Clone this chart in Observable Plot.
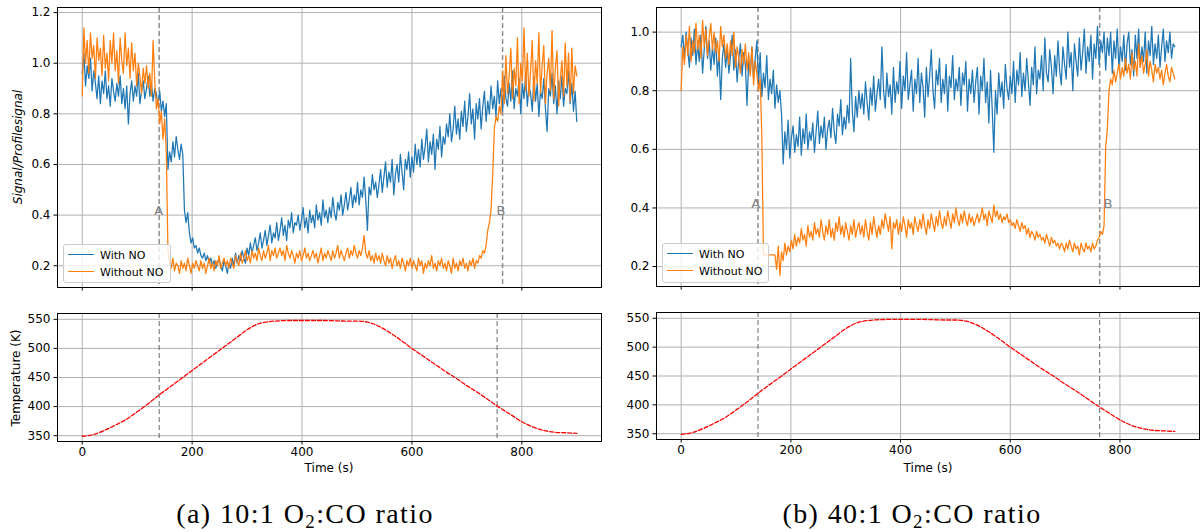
<!DOCTYPE html>
<html><head><meta charset="utf-8">
<script src="https://cdn.jsdelivr.net/npm/d3@7"></script>
<script src="https://cdn.jsdelivr.net/npm/@observablehq/plot@0.6"></script>
<style>
body{margin:0;background:#fff;}
#fig{position:relative;width:1200px;height:532px;overflow:hidden;font-family:"DejaVu Sans",sans-serif;color:#000;}
#fig svg{position:absolute;}
.ylab{position:absolute;font-size:12px;transform:translate(-50%,-50%) rotate(-90deg);white-space:nowrap;}
.xlab{position:absolute;font-size:12px;transform:translate(-50%,-50%);white-space:nowrap;}
.cap{position:absolute;font-family:"Liberation Serif",serif;font-size:28px;letter-spacing:1.4px;transform:translate(-50%,-50%);white-space:nowrap;}
.cap sub{font-size:19px;vertical-align:-5px;line-height:0;}
.legend{position:absolute;background:rgba(255,255,255,0.8);border:1px solid #cccccc;border-radius:3px;font-size:11px;box-sizing:border-box;}
.legend .sw{position:absolute;height:0;border-top:1.5px solid;}
.legend .tx{position:absolute;transform:translateY(-50%);white-space:nowrap;}
</style>
</head><body>
<div id="fig"></div>
<script>
// ---------- data ----------
const timeS = d3.range(0, 901, 3); // seconds, sampling of the signal traces
const xTicks = [0, 200, 400, 600, 800];
const signalTicksA = [0.2, 0.4, 0.6, 0.8, 1.0, 1.2];
const signalTicksB = [0.2, 0.4, 0.6, 0.8, 1.0];
const tempTicks = [350, 400, 450, 500, 550];
const seriesNames = ["With NO", "Without NO"];
const captionA = "(a) 10:1 O<sub>2</sub>:CO ratio";
const captionB = "(b) 40:1 O<sub>2</sub>:CO ratio";

// (a) 10:1 ratio, one row = 30 s
const leftWithNO = [
0.96,1.04,0.91,0.99,0.94,1.02,0.89,0.97,0.92,0.86,
0.95,0.84,0.93,0.88,0.97,0.86,0.91,0.83,0.94,0.89,
0.85,0.92,0.87,0.95,0.84,0.90,0.82,0.91,0.76,0.88,
0.93,0.85,0.91,0.87,0.96,0.84,0.89,0.93,0.86,0.90,
0.95,0.87,0.92,0.85,0.90,0.88,0.83,0.89,0.81,0.85,
0.79,0.84,0.58,0.65,0.61,0.69,0.63,0.71,0.66,0.62,
0.68,0.64,0.42,0.37,0.41,0.33,0.29,0.31,0.27,0.28,
0.25,0.27,0.24,0.23,0.25,0.22,0.24,0.21,0.23,0.20,
0.22,0.19,0.21,0.23,0.20,0.18,0.22,0.20,0.17,0.21,
0.19,0.23,0.20,0.25,0.21,0.24,0.22,0.26,0.23,0.21,
0.27,0.24,0.29,0.25,0.28,0.31,0.26,0.29,0.33,0.27,
0.30,0.34,0.28,0.32,0.36,0.29,0.33,0.31,0.37,0.30,
0.34,0.39,0.32,0.36,0.30,0.38,0.35,0.41,0.33,0.37,
0.36,0.40,0.34,0.38,0.43,0.35,0.39,0.33,0.42,0.37,
0.40,0.35,0.44,0.38,0.41,0.36,0.46,0.39,0.42,0.37,
0.43,0.39,0.47,0.41,0.38,0.45,0.42,0.48,0.40,0.44,
0.49,0.42,0.46,0.51,0.43,0.48,0.45,0.53,0.44,0.50,
0.47,0.55,0.46,0.34,0.51,0.48,0.56,0.50,0.53,0.47,
0.52,0.58,0.49,0.55,0.61,0.51,0.57,0.53,0.62,0.48,
0.56,0.60,0.53,0.64,0.57,0.50,0.62,0.58,0.65,0.55,
0.63,0.57,0.68,0.60,0.66,0.59,0.70,0.62,0.67,0.74,
0.61,0.69,0.64,0.72,0.58,0.70,0.66,0.75,0.63,0.71,
0.68,0.76,0.71,0.80,0.69,0.74,0.83,0.72,0.78,0.70,
0.81,0.75,0.85,0.73,0.79,0.88,0.76,0.82,0.70,0.84,
0.78,0.86,0.74,0.83,0.89,0.77,0.85,0.80,0.91,0.82,
0.87,0.79,0.93,0.84,0.90,0.81,0.95,0.86,0.83,0.92,
0.85,0.97,0.82,0.90,0.87,0.94,0.80,0.92,0.86,0.96,
0.83,0.91,0.88,0.81,0.95,0.85,0.92,0.79,0.89,0.86,
0.94,0.82,0.73,0.90,0.87,0.96,0.84,0.91,0.80,0.93,
0.86,0.95,0.83,0.90,0.88,0.97,0.84,0.92,0.81,0.89,
0.77];
const leftWithoutNO = [
0.87,1.14,1.00,1.09,0.96,1.12,1.02,1.07,0.94,1.10,
1.01,1.06,0.95,1.11,0.98,1.04,0.93,1.09,1.00,1.12,
0.97,1.05,0.92,1.10,1.01,0.96,1.12,0.99,1.06,0.94,
1.08,0.97,1.04,0.91,1.00,0.95,0.88,0.98,0.92,0.99,
0.90,0.96,0.87,1.09,0.93,0.82,0.86,0.76,0.81,0.70,
0.78,0.65,0.26,0.21,0.19,0.23,0.18,0.21,0.20,0.17,
0.22,0.19,0.21,0.18,0.23,0.20,0.17,0.21,0.19,0.22,
0.20,0.18,0.22,0.19,0.21,0.17,0.20,0.23,0.19,0.21,
0.18,0.22,0.20,0.24,0.19,0.21,0.23,0.20,0.22,0.19,
0.23,0.21,0.19,0.24,0.22,0.20,0.25,0.21,0.23,0.26,
0.22,0.24,0.21,0.26,0.23,0.25,0.22,0.27,0.24,0.22,
0.26,0.23,0.25,0.28,0.22,0.26,0.24,0.27,0.23,0.25,
0.27,0.24,0.26,0.22,0.28,0.25,0.23,0.26,0.24,0.21,
0.25,0.23,0.26,0.22,0.24,0.27,0.23,0.25,0.22,0.24,
0.26,0.23,0.25,0.21,0.24,0.27,0.22,0.25,0.23,0.26,
0.24,0.22,0.26,0.23,0.25,0.28,0.23,0.26,0.24,0.22,
0.25,0.27,0.23,0.26,0.24,0.28,0.25,0.23,0.26,0.24,
0.27,0.32,0.25,0.23,0.26,0.22,0.24,0.21,0.25,0.22,
0.24,0.21,0.25,0.22,0.20,0.24,0.21,0.23,0.19,0.22,
0.24,0.20,0.22,0.19,0.23,0.21,0.18,0.22,0.20,0.23,
0.19,0.22,0.20,0.18,0.23,0.20,0.22,0.17,0.21,0.19,
0.22,0.20,0.24,0.19,0.21,0.18,0.22,0.20,0.23,0.19,
0.21,0.18,0.22,0.20,0.17,0.23,0.19,0.21,0.18,0.22,
0.20,0.23,0.19,0.21,0.18,0.22,0.20,0.23,0.19,0.22,
0.21,0.24,0.23,0.26,0.25,0.28,0.34,0.37,0.42,0.56,
0.74,0.79,0.77,0.83,0.80,0.97,0.84,1.03,0.88,0.95,
1.06,0.86,0.98,0.91,1.10,0.84,1.00,0.93,1.14,0.89,
1.04,0.87,0.97,1.09,0.85,1.01,0.92,1.12,0.88,0.99,
1.07,0.84,0.96,1.02,0.89,1.13,0.86,0.98,1.05,0.83,
0.94,1.01,0.87,1.08,0.91,1.04,0.85,1.06,0.88,0.99,
0.95];

// (b) 40:1 ratio, one row = 30 s
const rightWithNO = [
0.95,0.99,0.91,1.00,0.94,0.88,0.98,0.92,1.01,0.89,
0.96,0.90,0.99,0.86,0.94,1.02,0.91,0.97,0.87,0.95,
0.89,0.98,0.85,0.93,0.77,0.91,0.96,0.88,0.94,0.86,
0.92,0.99,0.87,0.94,0.83,0.91,0.96,0.85,0.93,0.89,
0.75,0.90,0.86,0.95,0.84,0.91,0.97,0.82,0.93,0.78,
0.86,0.81,0.92,0.77,0.84,0.79,0.87,0.74,0.82,0.76,
0.80,0.72,0.55,0.66,0.60,0.70,0.57,0.64,0.68,0.59,
0.65,0.61,0.71,0.58,0.67,0.62,0.72,0.60,0.66,0.63,
0.69,0.59,0.66,0.73,0.62,0.68,0.64,0.71,0.60,0.67,
0.70,0.64,0.74,0.66,0.62,0.72,0.68,0.77,0.65,0.71,
0.67,0.75,0.69,0.91,0.73,0.66,0.78,0.71,0.80,0.74,
0.79,0.72,0.83,0.76,0.70,0.81,0.75,0.85,0.73,0.79,
0.84,0.77,0.95,0.80,0.74,0.86,0.78,0.82,0.72,0.88,
0.76,0.83,0.79,0.90,0.74,0.85,0.80,0.93,0.77,0.82,
0.87,0.73,0.84,0.79,0.91,0.76,0.86,0.81,0.71,0.88,
0.78,0.85,0.94,0.80,0.74,0.87,0.82,0.91,0.76,0.84,
0.79,0.89,0.73,0.85,0.81,0.92,0.77,0.84,0.80,0.88,
0.75,0.86,0.82,0.90,0.73,0.84,0.79,0.87,0.76,0.83,
0.88,0.72,0.85,0.80,0.91,0.76,0.83,0.69,0.87,0.74,
0.59,0.80,0.72,0.86,0.78,0.83,0.74,0.89,0.81,0.77,
0.85,0.79,0.90,0.76,0.87,0.82,0.93,0.78,0.86,0.80,
0.91,0.83,0.75,0.88,0.82,0.95,0.79,0.87,0.84,0.92,
0.80,0.98,0.86,0.83,0.94,0.88,0.79,0.92,0.85,0.97,
0.87,0.82,0.95,0.89,0.84,1.00,0.88,0.93,0.80,0.96,
0.90,0.85,0.98,0.87,0.93,1.01,0.86,0.95,0.90,0.99,
0.84,0.96,0.91,1.02,0.89,0.97,0.93,1.00,0.87,0.98,
0.92,1.00,0.86,0.97,0.91,1.01,0.88,0.95,0.90,0.99,
0.87,0.96,1.00,0.89,0.94,0.85,0.99,0.91,1.01,0.88,
0.95,0.90,1.00,0.86,0.97,0.92,1.02,0.89,0.96,0.91,
0.99,0.88,0.95,1.01,0.90,0.97,0.93,1.00,0.91,0.96,
0.95];
const rightWithoutNO = [
0.80,0.95,0.89,0.99,0.92,1.02,0.90,0.97,0.93,1.03,
0.94,0.99,0.91,1.04,0.95,1.01,0.92,0.98,1.03,0.94,
1.00,0.93,0.97,0.90,1.02,0.95,0.99,0.91,0.96,0.89,
0.97,0.92,1.00,0.88,0.95,0.91,0.86,0.94,0.89,0.96,
0.87,0.93,0.85,0.95,0.82,0.90,0.86,0.80,0.84,0.65,
0.24,0.24,0.24,0.24,0.24,0.24,0.24,0.24,0.19,0.27,
0.17,0.25,0.22,0.28,0.24,0.27,0.25,0.29,0.26,0.31,
0.27,0.30,0.28,0.33,0.29,0.31,0.27,0.34,0.30,0.32,
0.29,0.35,0.31,0.33,0.30,0.36,0.32,0.29,0.34,0.31,
0.36,0.30,0.33,0.29,0.35,0.32,0.37,0.31,0.34,0.30,
0.35,0.32,0.29,0.34,0.31,0.36,0.30,0.33,0.35,0.31,
0.34,0.30,0.36,0.32,0.29,0.35,0.31,0.37,0.33,0.30,
0.34,0.31,0.36,0.33,0.38,0.35,0.32,0.37,0.26,0.35,
0.33,0.36,0.31,0.35,0.32,0.37,0.34,0.30,0.36,0.33,
0.35,0.31,0.37,0.34,0.32,0.36,0.33,0.38,0.34,0.31,
0.36,0.33,0.38,0.35,0.32,0.37,0.34,0.39,0.35,0.33,
0.37,0.34,0.39,0.36,0.33,0.38,0.35,0.40,0.36,0.34,
0.38,0.35,0.39,0.36,0.34,0.38,0.35,0.37,0.34,0.36,
0.38,0.35,0.37,0.40,0.36,0.38,0.34,0.39,0.37,0.35,
0.41,0.37,0.39,0.36,0.38,0.35,0.37,0.36,0.38,0.35,
0.36,0.34,0.35,0.33,0.36,0.34,0.32,0.35,0.33,0.34,
0.31,0.33,0.30,0.32,0.31,0.29,0.32,0.30,0.31,0.29,
0.30,0.28,0.31,0.29,0.27,0.30,0.28,0.29,0.27,0.28,
0.26,0.28,0.27,0.25,0.28,0.26,0.29,0.27,0.25,0.28,
0.26,0.27,0.24,0.28,0.26,0.25,0.28,0.26,0.27,0.25,
0.28,0.26,0.27,0.29,0.30,0.32,0.31,0.34,0.61,0.67,
0.80,0.84,0.82,0.87,0.83,0.86,0.89,0.84,0.88,0.85,
0.91,0.86,0.89,0.84,0.93,0.87,0.90,0.85,0.96,0.88,
0.92,0.86,0.89,0.94,0.85,0.90,0.87,0.83,0.89,0.86,
0.88,0.84,0.87,0.82,0.86,0.89,0.85,0.83,0.88,0.86,
0.84];

// temperature ramp (K), every 20 s
const tempTime = d3.range(0, 901, 20);
const temperature = [349,352,359,368,378,391,405,420,434,448,462,476,490,504,518,532,542,546,547.5,548,548,548,548,547.5,547,547,545,538,527,514,500,487,474,461,449,436,424,411,398,386,374,365,359,356,355,354];

// event markers A/B (s)
const eventsTopA = [140, 765];
const eventsBottomA = [140, 755];
const eventsTopB = [140, 763];
const eventsBottomB = [140, 763];
const eventLabelsA = [{t:139, v:0.417, text:"A", anchor:"end"}, {t:762, v:0.417, text:"B", anchor:"start"}];
const eventLabelsB = [{t:136, v:0.415, text:"A", anchor:"end"}, {t:778, v:0.415, text:"B", anchor:"start"}];

const colors = ["#1f77b4", "#ff7f0e"];

// ---------- drawing ----------
const fig = document.getElementById("fig");
const gridStyle = {stroke:"#b0b0b0", strokeOpacity:1, strokeWidth:1};
const baseStyle = {fontFamily:"DejaVu Sans", fontSize:"12px", color:"#000", background:"transparent", overflow:"visible"};

function topPanel(o){
  const blueRows = timeS.map((t,i)=>({t, v:o.blue[i]}));
  const orangeRows = timeS.map((t,i)=>({t, v:o.orange[i]}));
  const svg = Plot.plot({
    width:o.width, height:300, marginLeft:o.ml, marginRight:o.mr, marginTop:7, marginBottom:o.mb,
    x:{domain:[-45,945]}, y:{domain:o.yDomain},
    style:baseStyle,
    marks:[
      Plot.gridX(xTicks, gridStyle),
      Plot.gridY(o.yTicks, gridStyle),
      Plot.ruleX(o.events, {stroke:"#8c8c8c", strokeWidth:1.5, strokeDasharray:"5,3"}),
      Plot.line(blueRows, {x:"t", y:"v", stroke:colors[0], strokeWidth:1.25}),
      Plot.line(orangeRows, {x:"t", y:"v", stroke:colors[1], strokeWidth:1.25}),
      Plot.text(o.labels, {x:"t", y:"v", text:"text", textAnchor:"anchor", fill:"#808080", fontSize:13}),
      Plot.axisX({ticks:xTicks, tickSize:3.5, tickFormat:()=>"", label:null}),
      Plot.axisY({ticks:o.yTicks, tickSize:3.5, tickPadding:3.5, tickFormat:d3.format(".1f"), label:null}),
      Plot.frame({stroke:"#000", strokeWidth:1})
    ]
  });
  svg.style.left = o.left + "px"; svg.style.top = "0px";
  fig.appendChild(svg);
}

function bottomPanel(o){
  const rows = tempTime.map((t,i)=>({t, v:temperature[i]}));
  const svg = Plot.plot({
    width:o.width, height:175, marginLeft:o.ml, marginRight:o.mr, marginTop:o.mt, marginBottom:o.mb,
    x:{domain:[-45,945]}, y:{domain:[340,560]},
    style:baseStyle,
    marks:[
      Plot.gridX(xTicks, gridStyle),
      Plot.gridY(tempTicks, gridStyle),
      Plot.ruleX(o.events, {stroke:"#666", strokeWidth:1, strokeDasharray:"5,3"}),
      Plot.line(rows, {x:"t", y:"v", stroke:"#ff0000", strokeWidth:1.3, strokeDasharray:"4,2", curve:"monotone-x"}),
      Plot.axisX({ticks:xTicks, tickSize:3.5, tickPadding:2, label:null}),
      Plot.axisY({ticks:tempTicks, tickSize:3.5, tickPadding:3.5, label:null}),
      Plot.frame({stroke:"#000", strokeWidth:1})
    ]
  });
  svg.style.left = o.left + "px"; svg.style.top = "300px";
  fig.appendChild(svg);
}

topPanel({left:0, width:605, ml:57, mr:4, mb:13, blue:leftWithNO, orange:leftWithoutNO,
  yDomain:[0.114,1.22], yTicks:signalTicksA, events:eventsTopA, labels:eventLabelsA});
topPanel({left:600, width:600, ml:56, mr:1, mb:14, blue:rightWithNO, orange:rightWithoutNO,
  yDomain:[0.132,1.084], yTicks:signalTicksB, events:eventsTopB, labels:eventLabelsB});
bottomPanel({left:0, width:605, ml:57, mr:4, mt:13, mb:34, events:eventsBottomA});
bottomPanel({left:600, width:600, ml:56, mr:1, mt:12, mb:36, events:eventsBottomB});

function addDiv(cls, html, x, y, extra){
  const d = document.createElement("div");
  d.className = cls; d.innerHTML = html;
  d.style.left = x + "px"; d.style.top = y + "px";
  if (extra) Object.assign(d.style, extra);
  fig.appendChild(d);
  return d;
}
addDiv("ylab", "Signal/Profilesignal", 17.5, 147, {fontStyle:"italic"});
addDiv("ylab", "Temperature (K)", 15.5, 378);
addDiv("xlab", "Time (s)", 329, 468);
addDiv("xlab", "Time (s)", 928, 468);
addDiv("cap", captionA, 305, 514);
addDiv("cap", captionB, 912, 514);

function legend(x, y, w, h, swL, txL){
  const lg = addDiv("legend", "", x, y, {width:w+"px", height:h+"px"});
  seriesNames.forEach((name, i) => {
    const cy = i === 0 ? 9.5 : 26.5;
    const sw = document.createElement("div");
    sw.className = "sw"; sw.style.left = swL + "px"; sw.style.width = "26px";
    sw.style.top = (cy - 0.75) + "px"; sw.style.borderTopColor = colors[i];
    lg.appendChild(sw);
    const tx = document.createElement("div");
    tx.className = "tx"; tx.textContent = name; tx.style.left = txL + "px"; tx.style.top = cy + "px";
    lg.appendChild(tx);
  });
}
legend(63, 244, 108, 39, 4, 36);
legend(662, 243, 107, 40, 4, 36);
</script>
</body></html>
